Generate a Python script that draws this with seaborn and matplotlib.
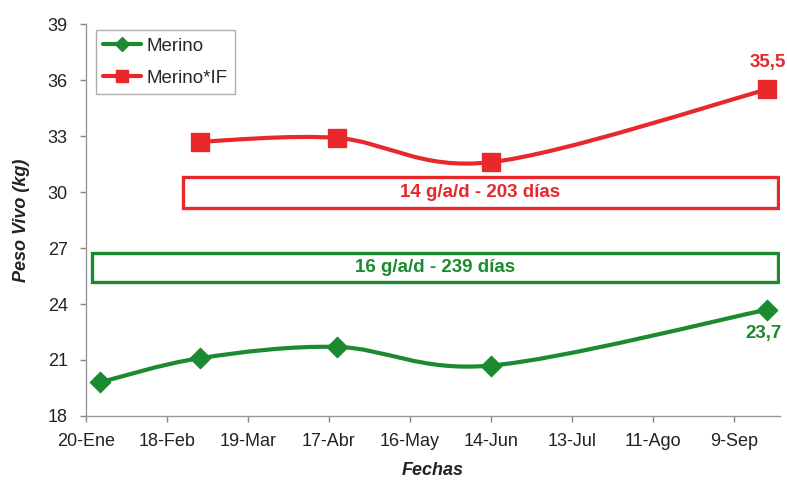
import numpy as np
import pandas as pd
import matplotlib
matplotlib.use("Agg")
import matplotlib.pyplot as plt
from matplotlib.path import Path
from matplotlib.patches import PathPatch, Rectangle
from matplotlib.lines import Line2D
import seaborn as sns

# Days counted from 20-Ene
tick_days = [0, 29, 58, 87, 116, 145, 174, 203, 232]
tick_labels = ["20-Ene", "18-Feb", "19-Mar", "17-Abr", "16-May",
               "14-Jun", "13-Jul", "11-Ago", "9-Sep"]

merino_days = [5, 41, 90, 145, 244]
merino_kg = [19.8, 21.1, 21.7, 20.7, 23.7]

merinoif_days = [41, 90, 145, 244]
merinoif_kg = [32.7, 32.9, 31.6, 35.5]

gain_labels = ["16 g/a/d - 239 días", "14 g/a/d - 203 días"]

GREEN = "#1c8a31"
RED = "#e8282b"

sns.set_style("white")
plt.rcParams["font.family"] = ["Liberation Sans", "DejaVu Sans"]

df = pd.concat([
    pd.DataFrame({"dia": merino_days, "peso": merino_kg, "grupo": "Merino"}),
    pd.DataFrame({"dia": merinoif_days, "peso": merinoif_kg, "grupo": "Merino*IF"}),
])

fig = plt.figure(figsize=(7.87, 4.82), dpi=100)
ax = fig.add_axes([0.109, 0.137, 0.882, 0.813])


def smooth_path(xs, ys):
    """Cubic Bezier path through the points (Excel style smoothing)."""
    pts = np.column_stack([xs, ys]).astype(float)
    n = len(pts)
    verts = [pts[0]]
    codes = [Path.MOVETO]
    for i in range(n - 1):
        p_prev = pts[i - 1] if i > 0 else pts[i]
        p0, p1 = pts[i], pts[i + 1]
        p_next = pts[i + 2] if i + 2 < n else pts[i + 1]
        c1 = p0 + (p1 - p_prev) / 6.0
        c2 = p1 - (p_next - p0) / 6.0
        verts += [c1, c2, p1]
        codes += [Path.CURVE4] * 3
    return Path(verts, codes)


for days, kg, col in [(merino_days, merino_kg, GREEN),
                      (merinoif_days, merinoif_kg, RED)]:
    ax.add_patch(PathPatch(smooth_path(days, kg), facecolor="none",
                           edgecolor=col, lw=3.0, capstyle="round",
                           joinstyle="round", zorder=3))

sns.scatterplot(data=df[df.grupo == "Merino"], x="dia", y="peso", ax=ax,
                marker="D", s=110, color=GREEN, edgecolor=GREEN,
                zorder=4, legend=False)
sns.scatterplot(data=df[df.grupo == "Merino*IF"], x="dia", y="peso", ax=ax,
                marker="s", s=150, color=RED, edgecolor=RED,
                zorder=4, legend=False)

# Final value labels
ax.annotate(f"{merinoif_kg[-1]:.1f}".replace(".", ","),
            (merinoif_days[-1], merinoif_kg[-1]), xytext=(0, 13),
            textcoords="offset points", ha="center", va="bottom",
            color=RED, fontsize=13.5, fontweight="bold")
ax.annotate(f"{merino_kg[-1]:.1f}".replace(".", ","),
            (merino_days[-1], merino_kg[-1]), xytext=(-3, -11),
            textcoords="offset points", ha="center", va="top",
            color=GREEN, fontsize=13.5, fontweight="bold")

# Daily gain boxes
for (x0, x1, y0, y1), col, txt in [((2.1, 247.8, 25.18, 26.73), GREEN, gain_labels[0]),
                                   ((34.7, 247.8, 29.14, 30.80), RED, gain_labels[1])]:
    ax.add_patch(Rectangle((x0, y0), x1 - x0, y1 - y0, facecolor="white",
                           edgecolor=col, lw=2.4, zorder=2))
    ax.text((x0 + x1) / 2, (y0 + y1) / 2, txt, ha="center", va="center",
            color=col, fontsize=13.5, fontweight="bold", zorder=3)

ax.set_xlim(0, 248.5)
ax.set_ylim(18, 39)
ax.set_xticks(tick_days)
ax.set_xticklabels(tick_labels)
ax.set_yticks(np.arange(18, 40, 3))
ax.tick_params(axis="both", labelsize=13, colors="#888888",
               labelcolor="#222222", length=4, width=1, direction="out",
               bottom=True, left=True)
ax.tick_params(axis="x", pad=8)
ax.tick_params(axis="y", pad=9)

for side in ["top", "right"]:
    ax.spines[side].set_visible(False)
for side in ["left", "bottom"]:
    ax.spines[side].set_color("#999999")
    ax.spines[side].set_linewidth(1)

ax.set_xlabel("Fechas", fontsize=13, fontweight="bold", style="italic",
              color="#222222", labelpad=9)
ax.set_ylabel("Peso Vivo (kg)", fontsize=13, fontweight="bold",
              style="italic", color="#222222", labelpad=13)

handles = [
    Line2D([], [], color=GREEN, lw=3, marker="D", markersize=7),
    Line2D([], [], color=RED, lw=3, marker="s", markersize=9),
]
leg = ax.legend(handles, ["Merino", "Merino*IF"], loc="upper left",
                bbox_to_anchor=(0.014, 0.985), fontsize=13.5, frameon=True,
                fancybox=False, edgecolor="#999999", handlelength=2.0,
                borderpad=0.4, labelspacing=0.8, handletextpad=0.3,
                borderaxespad=0)
leg.get_frame().set_linewidth(1)

fig.savefig("out.png", dpi=100)
